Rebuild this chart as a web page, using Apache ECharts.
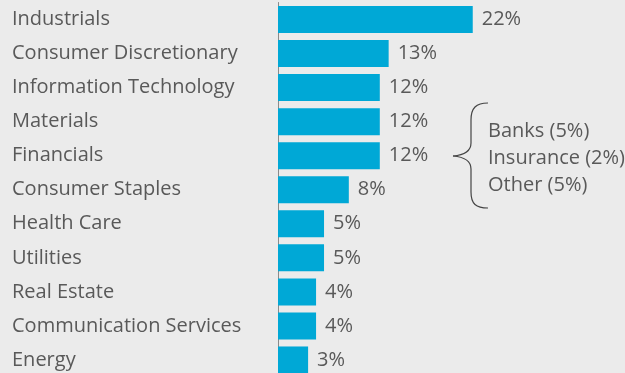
<!DOCTYPE html>
<html>
<head>
<meta charset="utf-8">
<script src="https://cdn.jsdelivr.net/npm/echarts@6/dist/echarts.min.js"></script>
<style>
  html, body { margin: 0; padding: 0; background: #ebebeb; overflow: hidden; }
  #main { width: 625px; height: 377px; }
</style>
</head>
<body>
<div id="main"></div>
<script>
var sectors = ['Industrials', 'Consumer Discretionary', 'Information Technology', 'Materials',
  'Financials', 'Consumer Staples', 'Health Care', 'Utilities', 'Real Estate',
  'Communication Services', 'Energy'];
var weights = [22.0, 12.5, 11.5, 11.5, 11.5, 8.0, 5.2, 5.2, 4.3, 4.3, 3.4];
var financialsBreakdown = ['Banks (5%)', 'Insurance (2%)', 'Other (5%)'];

var chartDom = document.getElementById('main');
var myChart = echarts.init(chartDom);
var textColor = '#595959';
var font = "'Open Sans', sans-serif";

var breakdownTexts = financialsBreakdown.map(function (t, i) {
  return {
    type: 'text',
    left: 488,
    top: 121 + i * 27,
    style: { text: t, fill: textColor, font: '20px ' + font }
  };
});

// curly brace next to Financials
var braceStyle = { stroke: '#444', lineWidth: 1.2, fill: null };
function curve(x1, y1, c1x, c1y, c2x, c2y, x2, y2) {
  return {
    type: 'bezierCurve',
    shape: { x1: x1, y1: y1, cpx1: c1x, cpy1: c1y, cpx2: c2x, cpy2: c2y, x2: x2, y2: y2 },
    style: braceStyle
  };
}
function seg(x1, y1, x2, y2) {
  return { type: 'line', shape: { x1: x1, y1: y1, x2: x2, y2: y2 }, style: braceStyle };
}
var brace = [
  curve(488, 103, 476, 103, 471, 108, 471, 120),
  seg(471, 120, 471, 143),
  curve(471, 143, 471, 150, 465, 155, 453, 156),
  curve(453, 156, 465, 157, 471, 162, 471, 169),
  seg(471, 169, 471, 192),
  curve(471, 192, 471, 204, 476, 208, 488, 208)
];

var option = {
  backgroundColor: '#ebebeb',
  animation: false,
  grid: { left: 278, right: 0, top: 2.5, bottom: 0 },
  xAxis: {
    type: 'value',
    min: 0,
    max: 39.2,
    show: false
  },
  yAxis: {
    type: 'category',
    data: sectors,
    inverse: true,
    axisLine: { show: true, lineStyle: { color: '#8a8a8a', width: 1 } },
    axisTick: { show: false },
    axisLabel: {
      align: 'left',
      margin: 266,
      color: textColor,
      fontSize: 20,
      fontFamily: font
    }
  },
  series: [
    {
      type: 'bar',
      data: weights,
      barWidth: 27,
      itemStyle: { color: '#00a8d6' },
      label: {
        show: true,
        position: 'right',
        distance: 9,
        color: textColor,
        fontSize: 20,
        fontFamily: font,
        formatter: function (p) { return Math.round(p.value) + '%'; }
      }
    }
  ],
  graphic: brace.concat(breakdownTexts)
};

myChart.setOption(option);
</script>
</body>
</html>
